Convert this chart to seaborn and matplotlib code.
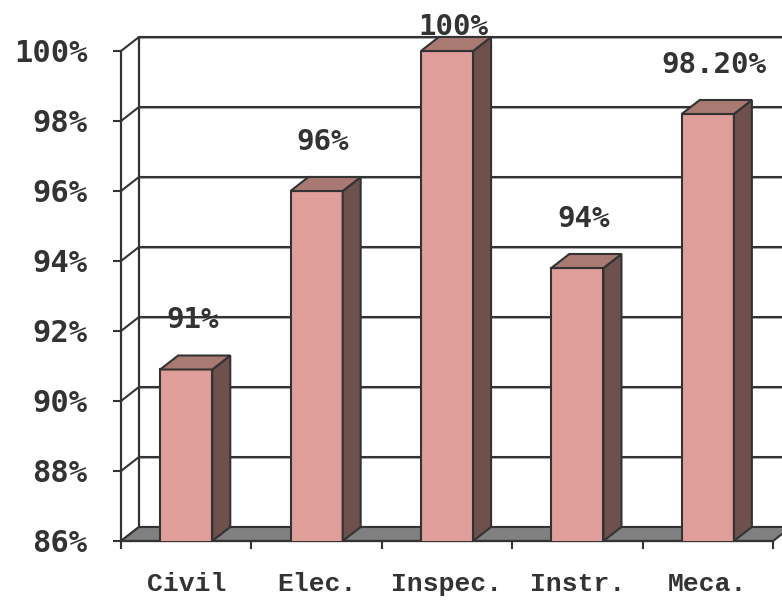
import matplotlib
matplotlib.use("Agg")
import matplotlib.pyplot as plt
from matplotlib.patches import Polygon
import seaborn as sns
import numpy as np

# DATA
categories = ["Civil", "Elec.", "Inspec.", "Instr.", "Meca."]
values = [90.9, 96.0, 100.0, 93.8, 98.2]
value_labels = ["91%", "96%", "100%", "94%", "98.20%"]
y_ticks = [86, 88, 90, 92, 94, 96, 98, 100]

# STYLE
front_col = "#E09E9A"
top_col = "#A87A72"
side_col = "#6E504C"
floor_col = "#808080"
edge = "#333333"
num_font = "DejaVu Sans Mono"
cat_font = "Liberation Mono"

sns.set_style("white")

fig = plt.figure(figsize=(7.82, 6.0), dpi=100)
ax = fig.add_axes([121 / 782, 59 / 600, 652 / 782, 490 / 600])

ymin, ymax = y_ticks[0], y_ticks[-1]

# depth of the fake 3D (data units)
dx, dy = 0.138, 0.4
bw = 0.4

# front bars
sns.barplot(x=categories, y=values, color=front_col, saturation=1, width=bw,
            edgecolor=edge, linewidth=1.5, ax=ax, zorder=3)
ax.set_xlim(-0.5, len(categories) - 0.5)
ax.set_ylim(ymin, ymax)

x0, x1 = -0.5, len(categories) - 0.5

# back wall gridlines + left side wall
for t in y_ticks:
    ax.plot([x0 + dx, x1 + dx + 0.2], [t + dy - 0.03, t + dy - 0.03], color="#9a9a9a",
            lw=1.2, clip_on=False, zorder=0.4)
    ax.plot([x0 + dx, x1 + dx + 0.2], [t + dy, t + dy], color=edge, lw=1.5,
            clip_on=False, zorder=0.5)
    ax.plot([x0, x0 + dx], [t, t + dy], color=edge, lw=1.5, clip_on=False, zorder=0.6)
ax.plot([x0 + dx, x0 + dx], [ymin + dy, ymax + dy], color=edge, lw=1.6,
        clip_on=False, zorder=0.6)

# floor
floor = Polygon([(x0, ymin), (x1, ymin), (x1 + dx, ymin + dy), (x0 + dx, ymin + dy)],
                closed=True, facecolor=floor_col, edgecolor=edge, lw=1.5,
                clip_on=False, zorder=1)
ax.add_patch(floor)

# bar tops and sides
for i, v in enumerate(values):
    l, r = i - bw / 2, i + bw / 2
    top = Polygon([(l, v), (r, v), (r + dx, v + dy), (l + dx, v + dy)], closed=True,
                  facecolor=top_col, edgecolor=edge, lw=1.5, clip_on=False, zorder=3.2)
    side = Polygon([(r, ymin), (r + dx, ymin + dy), (r + dx, v + dy), (r, v)], closed=True,
                   facecolor=side_col, edgecolor=edge, lw=1.5, clip_on=False, zorder=3.1)
    ax.add_patch(side)
    ax.add_patch(top)
    ax.text(i + 0.05, min(v + 1.4, ymax + 0.68), value_labels[i], ha="center", va="center",
            fontsize=21, fontweight="bold", family=num_font, color=edge)

# axes
sns.despine(ax=ax, top=True, right=True)
for s in ["left", "bottom"]:
    ax.spines[s].set_color(edge)
    ax.spines[s].set_linewidth(1.6)
    ax.spines[s].set_zorder(2)

ax.set_yticks(y_ticks)
ax.set_yticklabels([f"{t}%" for t in y_ticks], fontsize=22, fontweight="bold",
                   family=num_font, color=edge)
ax.tick_params(axis="y", direction="out", length=6, width=1.5, color=edge, pad=18, left=True)

ax.set_xticks(range(len(categories)))
ax.set_xticklabels(categories, fontsize=19, fontweight="bold", family=cat_font, color=edge)
ax.set_xticks(np.arange(-0.5, len(categories), 1.0), minor=True)
ax.tick_params(axis="x", which="major", length=0, pad=22)
ax.tick_params(axis="x", which="minor", direction="out", length=6, width=1.5, color=edge,
               bottom=True)
ax.set_xlabel("")
ax.set_ylabel("")

fig.savefig("out.png", dpi=100)
